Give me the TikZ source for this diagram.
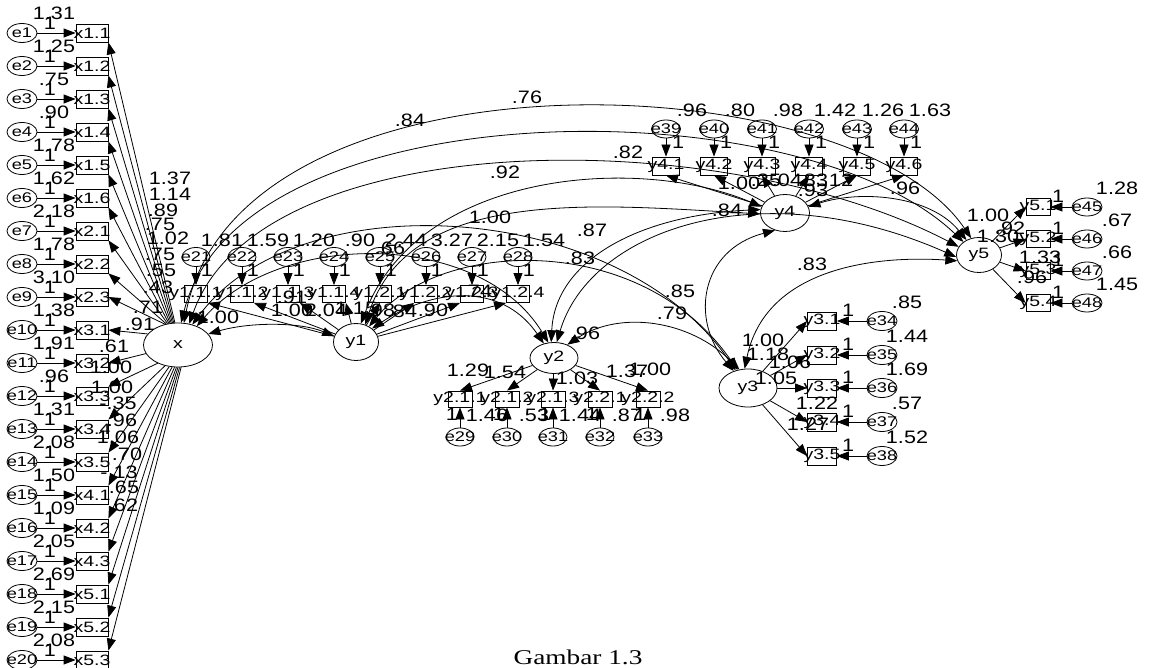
\documentclass[tikz,border=0pt]{standalone}
\usepackage{fontspec}
\usetikzlibrary{shapes.geometric,arrows.meta}
\newfontfamily\valfont[FakeStretch=1.2]{Liberation Sans}
\newfontfamily\namefont[FakeStretch=1.3]{Liberation Sans}
\newfontfamily\capfont[FakeStretch=1.3]{Liberation Serif}
\tikzset{
  val/.style={font=\valfont\fontsize{18}{18}\selectfont, inner sep=0pt},
  nm/.style={font=\namefont\fontsize{15}{15}\selectfont, inner sep=0pt},
  enm/.style={font=\namefont\fontsize{14}{14}\selectfont, inner sep=0pt},
  err/.style={ellipse, draw, line width=0.8pt, minimum width=30pt, minimum height=19pt, inner sep=0pt, label={[enm]center:#1}},
  obs/.style={rectangle, draw, line width=0.8pt, minimum width=#1, minimum height=18pt, inner sep=0pt},
  lat/.style 2 args={ellipse, draw, line width=0.8pt, minimum width=#1, minimum height=#2, inner sep=0pt, font=\namefont\fontsize{15}{15}\selectfont},
  arr/.style={line width=0.8pt, -{Triangle[length=12pt,width=9pt]}},
  dbl/.style={line width=0.8pt, {Triangle[length=12pt,width=9pt]}-{Triangle[length=12pt,width=9pt]}},
}
\begin{document}
\begin{tikzpicture}[x=1pt,y=-1pt]
\useasboundingbox (0,0) rectangle (1149,668);

% latent variables
\node[lat={69pt}{44pt}] (x) at (178,345) {x};
\node[lat={45pt}{37pt}] (y1) at (356,342) {y1};
\node[lat={48pt}{31pt}] (y2) at (554,358) {y2};
\node[lat={58pt}{38pt}] (y3) at (748,388) {y3};
\node[lat={49pt}{37pt}] (y4) at (785,213) {y4};
\node[lat={45pt}{35pt}] (y5) at (979,255) {y5};

% x indicators
\foreach \i/\nm/\v in {1/x1.1/1.31,2/x1.2/1.25,3/x1.3/.75,4/x1.4/.90,5/x1.5/1.78,6/x1.6/1.62,7/x2.1/2.18,8/x2.2/1.78,9/x2.3/3.10,10/x3.1/1.38,11/x3.2/1.91,12/x3.3/.96,13/x3.4/1.31,14/x3.5/2.08,15/x4.1/1.50,16/x4.2/1.09,17/x4.3/2.05,18/x5.1/2.69,19/x5.2/2.15,20/x5.3/2.08}{
  \node[err=e\i] (e\i) at (22,{33*\i}) {};
  \node[obs=32pt, label={[nm]center:\nm}] (ox\i) at (92,{33*\i}) {};
  \draw[arr] (e\i) -- (ox\i);
  \node[val] (o\i) at (50,{33*\i-10}) {1};
  \node[val] (ve\i) at (54,{33*\i-20}) {\v};
}
\foreach \r/\a/\an/\lab/\lx/\ly in {1/98/south east/1.37/170/178,2/101/south east/1.14/170/194,3/104/south east/.89/163/210,4/107/south east/.75/160/224,5/110/south east/1.02/168/238,6/113/south east/.75/160/254,7/116/south east/.55/161/270,8/119/south east/.43/158/287,9/122/east/.71/148/307,10/160/east/.91/140/324,11/195/east/.61/114/346,12/222/north east/1.00/111/367,13/238/north east/1.00/112/387,14/248/north east/-.35/118/403,15/255/north east/.96/122/420,16/261/north east/1.06/118/437,17/266/north east/.70/127/454,18/270/north east/-.13/119/472,19/274/north east/.65/124/487,20/278/north east/.62/123/505}{
  \draw[arr] (x.\a) -- (ox\r.\an);
  \node[val] (lx\r) at (\lx,\ly) {\lab};
}

% y1 indicators
\foreach \k/\xx/\nm/\v/\an in {21/196/y1.1.1/1.81/south east,22/242/y1.1.2/1.59/south east,23/288/y1.1.3/1.20/south east,24/334/y1.1.4/.90/south east,25/380/y1.2.1/2.44/south,26/426/y1.2.2/3.27/south west,27/472/y1.2.3/2.15/south west,28/518/y1.2.4/1.54/south west}{
  \node[err=e\k, minimum width=28pt] (e\k) at (\xx,257) {};
  \node[obs=23pt, minimum height=17pt, label={[nm]center:\nm}] (b\k) at (\xx,294) {};
  \draw[arr] (e\k) -- (b\k);
  \node[val] (o\k) at (\xx+11,270) {1};
  \node[val] (ve\k) at (\xx+26,240) {\v};
  \draw[arr] (y1) -- (b\k.\an);
}

% y2 indicators
\foreach \k/\xx/\nm/\v in {29/460/y2.1.1/1.46,30/507/y2.1.2/.53,31/553/y2.1.3/1.44,32/600/y2.2.1/.87,33/648/y2.2.2/.98}{
  \node[err=e\k, minimum width=28pt, minimum height=18pt] (e\k) at (\xx,437) {};
  \node[obs=24pt, minimum height=16pt, label={[nm]center:\nm}] (b\k) at (\xx,399) {};
  \draw[arr] (e\k) -- (b\k);
  \node[val] (o\k) at (\xx-8,414) {1};
  \node[val] (ve\k) at (\xx+27,415) {\v};
  \draw[arr] (y2) -- (b\k.north);
}

% y3 indicators
\foreach \k/\yy/\nm/\v in {34/321/y3.1/.85,35/355/y3.2/1.44,36/388/y3.3/1.69,37/422/y3.4/.57,38/456/y3.5/1.52}{
  \node[err=e\k, minimum width=30pt] (e\k) at (882,\yy) {};
  \node[obs=29pt, label={[nm]center:\nm}] (b\k) at (822,\yy) {};
  \draw[arr] (e\k) -- (b\k);
  \node[val] (o\k) at (848,\yy-11) {1};
  \node[val] (ve\k) at (907,\yy-19) {\v};
  \draw[arr] (y3) -- (b\k.west);
}

% y4 indicators
\foreach \k/\xx/\nm/\v in {39/666/y4.1/.96,40/714/y4.2/.80,41/762/y4.3/.98,42/809/y4.4/1.42,43/857/y4.5/1.26,44/904/y4.6/1.63}{
  \node[err=e\k, minimum width=29pt, minimum height=18pt] (e\k) at (\xx,129) {};
  \node[obs=27pt, label={[nm]center:\nm}] (b\k) at (\xx,166) {};
  \draw[arr] (e\k) -- (b\k);
  \node[val] (o\k) at (\xx+12,142) {1};
  \node[val] (ve\k) at (\xx+26,110) {\v};
  \draw[arr] (y4) -- (b\k.south);
}

% y5 indicators
\foreach \k/\yy/\nm/\v in {45/207/y5.1/1.28,46/239/y5.2/.67,47/271/y5.3/.66,48/303/y5.4/1.45}{
  \node[err=e\k, minimum width=30pt, minimum height=18pt] (e\k) at (1087,\yy) {};
  \node[obs=24pt, minimum height=17pt, label={[nm]center:\nm}] (b\k) at (1038,\yy) {};
  \draw[arr] (e\k) -- (b\k);
  \node[val] (o\k) at (1058,\yy-11) {1};
  \node[val] (ve\k) at (1117,\yy-19) {\v};
  \draw[arr] (y5) -- (b\k.west);
}

% covariance arcs
\draw[dbl] (x.75) .. controls (240,42) and (850,60) .. (y5.115);
\draw[dbl] (x.82) .. controls (240,88) and (800,85) .. (y5.140);
\draw[dbl] (x.62) .. controls (260,125) and (720,122) .. (y5.158);
\draw[dbl] (y1.75) .. controls (420,170) and (640,155) .. (y4.165);
\draw[dbl] (y1.62) .. controls (410,185) and (600,205) .. (y4.182);
\draw[dbl] (y2.100) .. controls (555,260) and (640,215) .. (y4.172);
\draw[dbl] (y2.80) .. controls (590,230) and (760,170) .. (y5.185);
\draw[dbl] (y3.130) .. controls (690,320) and (700,250) .. (y4.240);
\draw[dbl] (y3.100) .. controls (765,270) and (870,255) .. (y5.195);
\draw[dbl] (y4.15) .. controls (860,190) and (930,195) .. (y5.130);
\draw[dbl] (y2.45) .. controls (620,310) and (690,320) .. (y3.115);
\draw[dbl] (x.55) .. controls (300,180) and (620,200) .. (y3.125);
\draw[dbl] (y1.50) .. controls (440,240) and (640,230) .. (y3.120);
\draw[dbl] (x.45) .. controls (280,230) and (480,230) .. (y2.110);
\draw[dbl] (y1.40) .. controls (430,290) and (500,280) .. (y2.125);
\draw[dbl] (x.20) .. controls (250,322) and (300,322) .. (y1.165);

% arc labels
\foreach \n/\t/\px/\py in {a1/.76/527/97,a2/.84/410/120,a3/.82/628/152,a4/.92/505/172,a5/1.00/490/217,a6/.87/592/230,a7/.83/580/258,a8/.85/680/291,a9/.79/672/313,a10/.96/585/333,a11/.84/727/210,a12/.83/812/264,a13/.96/905/188,a14/.66/390/248}{
  \node[val] (\n) at (\px,\py) {\t};
}

% y1 loading labels
\foreach \n/\t/\px/\py in {l1/1.00/218/317,l2/.91/292/297,l3/1.00/292/310,l4/2.04/326/310,l5/1.15/356/308,l6/.98/380/310,l7/.84/402/311,l8/.90/433/310,l9/.74/477/291}{
  \node[val] (\n) at (\px,\py) {\t};
}
% y2 loading labels
\foreach \n/\t/\px/\py in {m1/1.29/468/370,m2/1.54/505/372,m3/1.03/577/378,m4/1.37/627/371,m5/1.00/650/369}{
  \node[val] (\n) at (\px,\py) {\t};
}
% y3 loading labels
\foreach \n/\t/\px/\py in {n1/1.00/763/340,n2/1.18/768/354,n3/1.06/790/362,n4/1.05/776/378,n5/1.22/817/403,n6/1.27/808/424}{
  \node[val] (\n) at (\px,\py) {\t};
}
% y4 loading labels
\foreach \n/\t/\px/\py in {p1/1.00/739/183,p2/.25/766/180,p3/.04/787/180,p4/.83/813/180,p5/.12/838/180,p6/.93/813/190}{
  \node[val] (\n) at (\px,\py) {\t};
}
% y5 loading labels
\foreach \n/\t/\px/\py in {q1/1.00/988/215,q2/.92/1010/228,q3/1.30/998/236,q4/1.33/1040/257,q5/.96/1032/277}{
  \node[val] (\n) at (\px,\py) {\t};
}

\node[anchor=base, font=\capfont\fontsize{21}{21}\selectfont, inner sep=0pt] (cap) at (578,664) {Gambar 1.3};
\end{tikzpicture}
\end{document}
